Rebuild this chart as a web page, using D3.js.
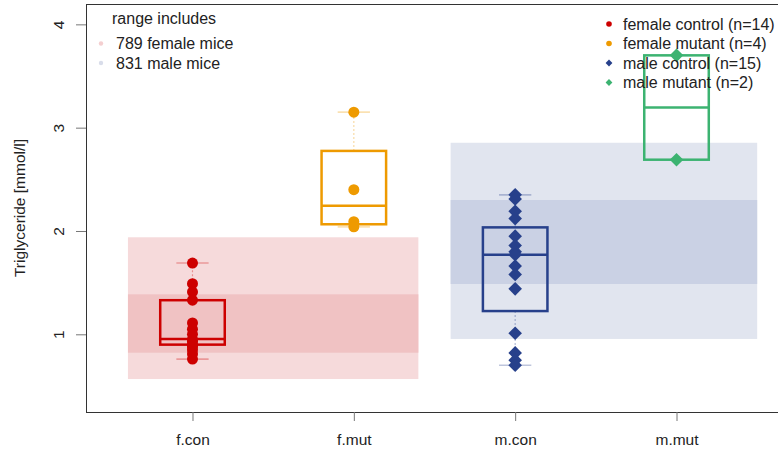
<!DOCTYPE html>
<html>
<head>
<meta charset="utf-8">
<script src="https://cdn.jsdelivr.net/npm/d3@7"></script>
<style>
  html, body { margin: 0; padding: 0; background: #fff; }
  svg { display: block; font-family: "Liberation Sans", Arial, Helvetica, sans-serif; }
</style>
</head>
<body>
<svg id="chart" width="778" height="452"></svg>
<script>
// Groups shown along the x axis
const groups = ["f.con", "f.mut", "m.con", "m.mut"];
const groupNames = ["female control", "female mutant", "male control", "male mutant"];
const groupColors = ["#CD0000", "#EE9A00", "#27408B", "#3CB371"];
const groupShapes = ["circle", "circle", "diamond", "diamond"];

// Individual triglyceride measurements (mmol/l)
const fConValues = [1.69, 1.49, 1.41, 1.33, 1.11, 1.05, 1.00, 0.95, 0.93, 0.90, 0.88, 0.85, 0.81, 0.76];
const fMutValues = [3.15, 2.40, 2.09, 2.04];
const mConValues = [2.35, 2.31, 2.19, 2.12, 1.95, 1.86, 1.80, 1.77, 1.66, 1.58, 1.44, 1.01, 0.82, 0.75, 0.70];
const mMutValues = [3.70, 2.69];
const groupValues = [fConValues, fMutValues, mConValues, mMutValues];

// Box statistics per group: lower whisker, lower hinge, median, upper hinge, upper whisker
const whiskerLow  = [0.76, 2.04, 0.70, 2.69];
const hingeLow    = [0.90, 2.065, 1.225, 2.69];
const medians     = [0.955, 2.245, 1.77, 3.195];
const hingeHigh   = [1.33, 2.775, 2.035, 3.70];
const whiskerHigh = [1.69, 3.15, 2.35, 3.70];

// Reference ranges from the wider population
const rangeLabels = ["789 female mice", "831 male mice"];
const rangeOuterLow  = [0.567, 0.955];
const rangeOuterHigh = [1.939, 2.854];
const rangeInnerLow  = [0.822, 1.487];
const rangeInnerHigh = [1.387, 2.300];
const rangeFrom = [0.6, 2.6];
const rangeTo   = [2.4, 4.5];
const rangeOuterColors = ["#F6DADB", "#E1E5EF"];
const rangeInnerColors = ["#F0C2C3", "#CAD1E4"];
const rangeDotColors   = ["#F4CFD0", "#D9DDEA"];

const yTicks = [1, 2, 3, 4];

const svg = d3.select("#chart");
const plot = { left: 86, top: 4, bottom: 412, right: 783 };

const x = d3.scaleLinear().domain([0.34, 4.66]).range([plot.left, plot.right]);
const y = d3.scaleLinear().domain([0.248, 4.197]).range([plot.bottom, plot.top]);
const unit = x(1) - x(0);

// Population ranges
const bands = svg.append("g");
rangeLabels.forEach((_, i) => {
  bands.append("rect")
    .attr("x", x(rangeFrom[i])).attr("width", x(rangeTo[i]) - x(rangeFrom[i]))
    .attr("y", y(rangeOuterHigh[i])).attr("height", y(rangeOuterLow[i]) - y(rangeOuterHigh[i]))
    .attr("fill", rangeOuterColors[i]);
  bands.append("rect")
    .attr("x", x(rangeFrom[i])).attr("width", x(rangeTo[i]) - x(rangeFrom[i]))
    .attr("y", y(rangeInnerHigh[i])).attr("height", y(rangeInnerLow[i]) - y(rangeInnerHigh[i]))
    .attr("fill", rangeInnerColors[i]);
});

// Boxplots
const boxes = svg.append("g");
groups.forEach((g, i) => {
  const cx = x(i + 1);
  const col = groupColors[i];
  const half = 0.2 * unit;
  const capHalf = 0.1 * unit;
  // whiskers
  [[hingeHigh[i], whiskerHigh[i]], [hingeLow[i], whiskerLow[i]]].forEach(([a, b]) => {
    if (Math.abs(a - b) > 1e-9) {
      boxes.append("line")
        .attr("x1", cx).attr("x2", cx).attr("y1", y(a)).attr("y2", y(b))
        .attr("stroke", col).attr("stroke-opacity", 0.35)
        .attr("stroke-width", 1.2).attr("stroke-dasharray", "2,2");
    }
    boxes.append("line")
      .attr("x1", cx - capHalf).attr("x2", cx + capHalf).attr("y1", y(b)).attr("y2", y(b))
      .attr("stroke", col).attr("stroke-opacity", 0.3).attr("stroke-width", 1.6);
  });
  boxes.append("rect")
    .attr("x", cx - half).attr("width", 2 * half)
    .attr("y", y(hingeHigh[i])).attr("height", y(hingeLow[i]) - y(hingeHigh[i]))
    .attr("fill", "none").attr("stroke", col).attr("stroke-width", 2.5);
  boxes.append("line")
    .attr("x1", cx - half).attr("x2", cx + half)
    .attr("y1", y(medians[i])).attr("y2", y(medians[i]))
    .attr("stroke", col).attr("stroke-width", 2.5);
});

// Individual points
function diamondPath(r) {
  return `M0,${-r}L${r},0L0,${r}L${-r},0Z`;
}
const pts = svg.append("g");
groupValues.forEach((vals, i) => {
  vals.forEach(v => {
    if (groupShapes[i] === "circle") {
      pts.append("circle").attr("cx", x(i + 1)).attr("cy", y(v)).attr("r", 5.5)
        .attr("fill", groupColors[i]);
    } else {
      pts.append("path").attr("d", diamondPath(6.8))
        .attr("transform", `translate(${x(i + 1)},${y(v)})`)
        .attr("fill", groupColors[i]);
    }
  });
});

// Frame
svg.append("rect")
  .attr("x", plot.left + 0.5).attr("y", plot.top + 0.5)
  .attr("width", plot.right - plot.left).attr("height", plot.bottom - plot.top)
  .attr("fill", "none").attr("stroke", "#333").attr("stroke-width", 1);

// Y axis
const yAxis = svg.append("g").attr("transform", `translate(${plot.left},0)`)
  .call(d3.axisLeft(y).tickValues(yTicks).tickSize(10).tickFormat(d3.format("d")));
yAxis.select(".domain").remove();
yAxis.selectAll(".tick line").attr("stroke", "#777");
yAxis.selectAll(".tick text")
  .attr("font-size", 15.5).attr("fill", "#222")
  .attr("font-family", "Liberation Sans, Arial, sans-serif")
  .attr("x", null).attr("dy", null)
  .attr("text-anchor", "middle")
  .attr("transform", "translate(-28,0) rotate(-90)")
  .attr("dominant-baseline", "central");

// X axis
const xAxis = svg.append("g").attr("transform", `translate(0,${plot.bottom})`)
  .call(d3.axisBottom(x).tickValues([1, 2, 3, 4]).tickSize(9).tickFormat(d => groups[d - 1]));
xAxis.select(".domain").remove();
xAxis.selectAll(".tick line").attr("stroke", "#777");
xAxis.selectAll(".tick text")
  .attr("font-size", 15.5).attr("fill", "#222")
  .attr("font-family", "Liberation Sans, Arial, sans-serif")
  .attr("y", 28).attr("dy", "0.32em");

// Y axis title
svg.append("text")
  .attr("transform", `translate(19,${(plot.top + plot.bottom) / 2}) rotate(-90)`)
  .attr("text-anchor", "middle").attr("dominant-baseline", "central")
  .attr("font-size", 15.5).attr("fill", "#222")
  .text("Triglyceride [mmol/l]");

// Population range legend
const legL = svg.append("g");
legL.append("text").attr("x", 112).attr("y", 18).attr("dominant-baseline", "central")
  .attr("font-size", 16).attr("fill", "#222").text("range includes");
rangeLabels.forEach((lab, i) => {
  const yy = 43.5 + i * 19.5;
  legL.append("circle").attr("cx", 101).attr("cy", yy).attr("r", 2.2).attr("fill", rangeDotColors[i]);
  legL.append("text").attr("x", 116).attr("y", yy).attr("dominant-baseline", "central")
    .attr("font-size", 16).attr("fill", "#222").text(lab);
});

// Group legend
const legR = svg.append("g");
groupNames.forEach((name, i) => {
  const yy = 24 + i * 19.5;
  if (groupShapes[i] === "circle") {
    legR.append("circle").attr("cx", 609).attr("cy", yy).attr("r", 2.8).attr("fill", groupColors[i]);
  } else {
    legR.append("path").attr("d", diamondPath(3.4))
      .attr("transform", `translate(609,${yy})`).attr("fill", groupColors[i]);
  }
  legR.append("text").attr("x", 623).attr("y", yy).attr("dominant-baseline", "central")
    .attr("font-size", 16).attr("fill", "#222")
    .text(`${name} (n=${groupValues[i].length})`);
});
</script>
</body>
</html>
